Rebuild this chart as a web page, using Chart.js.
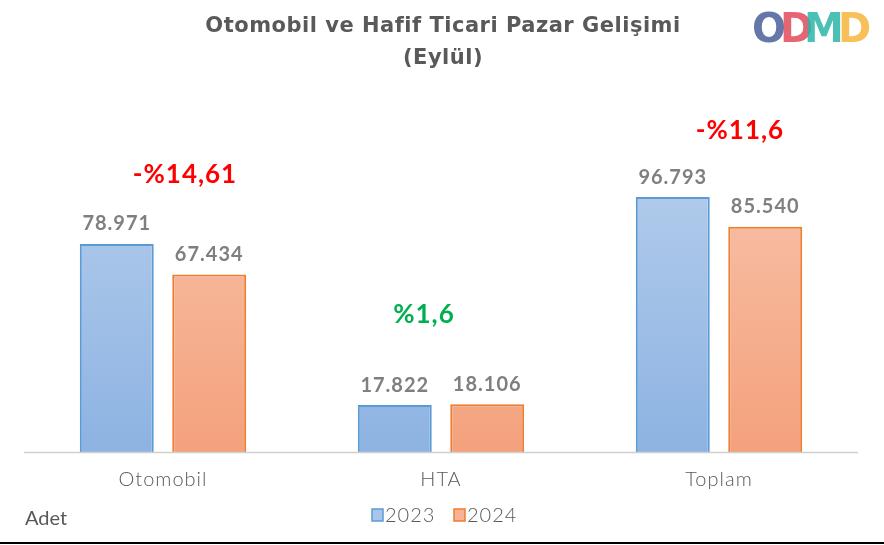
<!DOCTYPE html>
<html><head><meta charset="utf-8">
<script src="https://cdn.jsdelivr.net/npm/chart.js@4/dist/chart.umd.min.js"></script>
<style>html,body{margin:0;padding:0;background:#fff;}#w{position:relative;width:884px;height:545px;}</style>
</head><body><div id="w"><canvas id="c" width="884" height="545"></canvas></div>
<script>
const categories = ['Otomobil', 'HTA', 'Toplam'];
const seriesNames = ['2023', '2024'];
const values2023 = [78971, 17822, 96793];
const values2024 = [67434, 18106, 85540];
const changeLabels = ['-%14,61', '%1,6', '-%11,6'];
const changeColors = ['#ff0000', '#00b050', '#ff0000'];
const valueLabels2023 = ['78.971', '17.822', '96.793'];
const valueLabels2024 = ['67.434', '18.106', '85.540'];
const yMax = 120000;

const ctx = document.getElementById('c').getContext('2d');
function grad(top, bot){
  return (c)=>{ const a=c.chart.chartArea; if(!a) return top;
    const g=c.chart.ctx.createLinearGradient(0,a.top,0,a.bottom); g.addColorStop(0,top); g.addColorStop(1,bot); return g; };
}
const FONT = 'Lato, "Open Sans", sans-serif';
const changeDx = [22, -17, 21];
const changeDy = [-69, -90, -67];
const deco = {
  id:'deco',
  afterDatasetsDraw(chart){
    const c=chart.ctx, x=chart.scales.x, y=chart.scales.y, a=chart.chartArea;
    c.save();
    c.strokeStyle='#d0d0d0'; c.lineWidth=1.5;
    c.beginPath(); c.moveTo(a.left,a.bottom+0.5); c.lineTo(a.right,a.bottom+0.5); c.stroke();
    c.fillStyle='#595959'; c.textAlign='center'; c.textBaseline='middle';
    c.font='bold 21px "DejaVu Sans", sans-serif'; c.letterSpacing='0.5px';
    c.fillText('Otomobil ve Hafif Ticari Pazar Gelişimi', 443, 27);
    c.fillText('(Eylül)', 443, 59);
    c.letterSpacing='1px';
    c.font='bold 20px '+FONT; c.fillStyle='#7f7f7f'; c.textBaseline='bottom';
    [valueLabels2023, valueLabels2024].forEach((lbls,di)=>{
      chart.getDatasetMeta(di).data.forEach((b,i)=>{ c.fillText(lbls[i], b.x, b.y-10); });
    });
    c.font='bold 26px '+FONT; c.textBaseline='middle';
    const vmax = categories.map((_,i)=>Math.max(values2023[i],values2024[i]));
    categories.forEach((cat,i)=>{
      c.fillStyle=changeColors[i];
      c.fillText(changeLabels[i], x.getPixelForValue(i)+changeDx[i], y.getPixelForValue(vmax[i])+changeDy[i]);
    });
    c.font='300 20px '+FONT; c.fillStyle='#595959'; c.letterSpacing='1px';
    categories.forEach((cat,i)=>c.fillText(cat, x.getPixelForValue(i), 480));
    c.textAlign='left';
    const items=[['#a8c6ea','#5b9bd5'],['#f6b395','#ed7d31']];
    let lx=372;
    seriesNames.forEach((n,i)=>{
      c.fillStyle=items[i][0]; c.strokeStyle=items[i][1]; c.lineWidth=1.5;
      c.fillRect(lx,509,11,12); c.strokeRect(lx,509,11,12);
      c.fillStyle='#595959'; c.fillText(n, lx+13, 516);
      lx+=82;
    });
    c.letterSpacing='0px';
    c.font='20px '+FONT;
    c.fillText('Adet', 25, 519);
    c.strokeStyle='#000'; c.lineWidth=2;
    c.beginPath(); c.moveTo(0,543); c.lineTo(884,543); c.stroke();
    c.font='900 40px "DejaVu Sans", sans-serif'; c.textBaseline='middle'; c.globalAlpha=0.85;
    const L=[['O','#4a5f9a',752],['D','#e04a5a',780],['M','#2cb5a8',804],['D','#f6b53c',838]];
    L.forEach(l=>{c.fillStyle=l[1]; c.fillText(l[0], l[2], 32);});
    c.restore();
  }
};
new Chart(ctx,{
  type:'bar',
  data:{labels:categories, datasets:[
    {label:seriesNames[0], data:values2023, backgroundColor:grad('#b7cfec','#8db3e2'), borderColor:'#5b9bd5', borderWidth:2, borderSkipped:'bottom'},
    {label:seriesNames[1], data:values2024, backgroundColor:grad('#f8c5ad','#f4a17c'), borderColor:'#ed7d31', borderWidth:2, borderSkipped:'bottom'}
  ]},
  options:{
    responsive:false, animation:false,
    layout:{padding:{left:24,right:26,top:136,bottom:93}},
    categoryPercentage:0.665, barPercentage:0.8,
    plugins:{legend:{display:false}, tooltip:{enabled:false}},
    scales:{x:{display:false}, y:{display:false, min:0, max:yMax}}
  },
  plugins:[deco]
});
</script></body></html>
